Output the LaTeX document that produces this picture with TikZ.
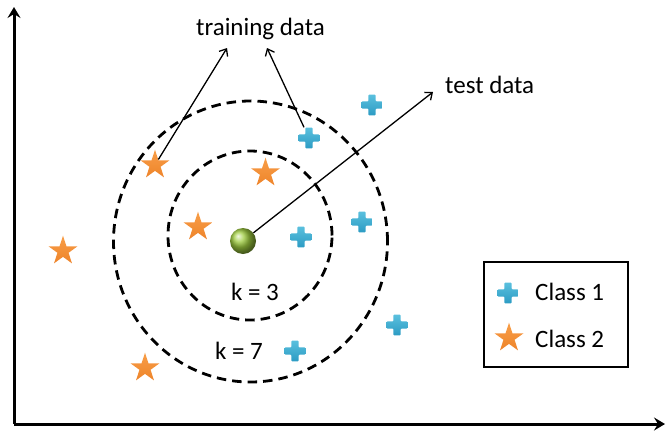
\documentclass[tikz,border=0pt]{standalone}
\usepackage{fontspec}
\setmainfont{Carlito}
\usetikzlibrary{arrows.meta,shapes.geometric}

\definecolor{plusblue}{RGB}{44,155,195}
\definecolor{plusblueL}{RGB}{90,192,222}
\definecolor{starorange}{RGB}{238,132,42}
\definecolor{starorangeL}{RGB}{248,158,72}
\definecolor{ballgreen}{RGB}{158,204,62}

\tikzset{
  lbl/.style={font=\fontsize{25}{30}\selectfont, inner sep=0pt},
  axis/.style={line width=3pt, -{Stealth[length=11pt,width=13pt,inset=4pt]}},
  ring/.style={draw, ellipse, line width=2.8pt, dash pattern=on 9.5pt off 6pt, inner sep=0pt},
  pointer/.style={line width=1.3pt, -{Straight Barb[length=6pt,width=10pt]}},
  starpt/.style={star, star points=5, star point ratio=2.618, minimum size=30.6pt,
    inner sep=0pt, top color=starorangeL, bottom color=starorange, draw=none},
  pluspt/.style={minimum size=21pt, inner sep=0pt,
    path picture={
      \shade[top color=plusblueL, bottom color=plusblue, rounded corners=0.8pt]
        ([shift={(-3.6pt,-10.4pt)}]path picture bounding box.center)
        -- ++(7.2pt,0) -- ++(0,6.8pt) -- ++(6.8pt,0) -- ++(0,7.2pt)
        -- ++(-6.8pt,0) -- ++(0,6.8pt) -- ++(-7.2pt,0) -- ++(0,-6.8pt)
        -- ++(-6.8pt,0) -- ++(0,-7.2pt) -- ++(6.8pt,0) -- cycle;
    }},
  query/.style={circle, minimum size=26pt, inner sep=0pt, shading=ball, ball color=ballgreen},
}

\begin{document}
\begin{tikzpicture}[x=1pt, y=-1pt]
  \useasboundingbox (0,0) rectangle (666,431);

  % axes
  \coordinate (origin) at (14,424);
  \coordinate (ytop) at (14,7);
  \coordinate (xend) at (665,424);
  \draw[axis] (origin) -- (ytop);
  \draw[axis] (origin) -- (xend);

  % neighbourhood rings
  \node[ring, minimum width=274pt, minimum height=281pt] (ring7) at (250.5,241.5) {};
  \node[ring, minimum width=164pt, minimum height=169pt] (ring3) at (250,235.5) {};

  % class 2 samples
  \node[starpt] (s1) at (155,165) {};
  \node[starpt] (s2) at (265.5,173) {};
  \node[starpt] (s3) at (198,227) {};
  \node[starpt] (s4) at (63,251) {};
  \node[starpt] (s5) at (145,368) {};

  % class 1 samples
  \node[pluspt] (p1) at (309,138) {};
  \node[pluspt] (p2) at (372,105) {};
  \node[pluspt] (p3) at (301,237) {};
  \node[pluspt] (p4) at (362,222) {};
  \node[pluspt] (p5) at (397,325) {};
  \node[pluspt] (p6) at (295,351) {};

  % query point
  \node[query] (q) at (243,241) {};

  % labels
  \node[lbl, anchor=base] (train) at (260.5,35) {training data};
  \node[lbl, anchor=base west] (test) at (445,93) {test data};
  \node[lbl, anchor=base] (k3) at (255,300) {k = 3};
  \node[lbl, anchor=base] (k7) at (239,359) {k = 7};

  % pointers
  \coordinate (tipA) at (227,48);
  \coordinate (tipB) at (267,48);
  \coordinate (tipC) at (433,92);
  \draw[pointer] (s1) -- (tipA);
  \draw[pointer] (p1) -- (tipB);
  \draw[pointer] (q) -- (tipC);

  % legend
  \node[draw, line width=2pt, minimum width=144pt, minimum height=105pt] (legend) at (556,314.5) {};
  \node[pluspt] (lp) at (508,293) {};
  \node[starpt] (ls) at (509,338) {};
  \node[lbl, anchor=base west] (c1) at (535,300) {Class 1};
  \node[lbl, anchor=base west] (c2) at (535,347) {Class 2};
\end{tikzpicture}
\end{document}
